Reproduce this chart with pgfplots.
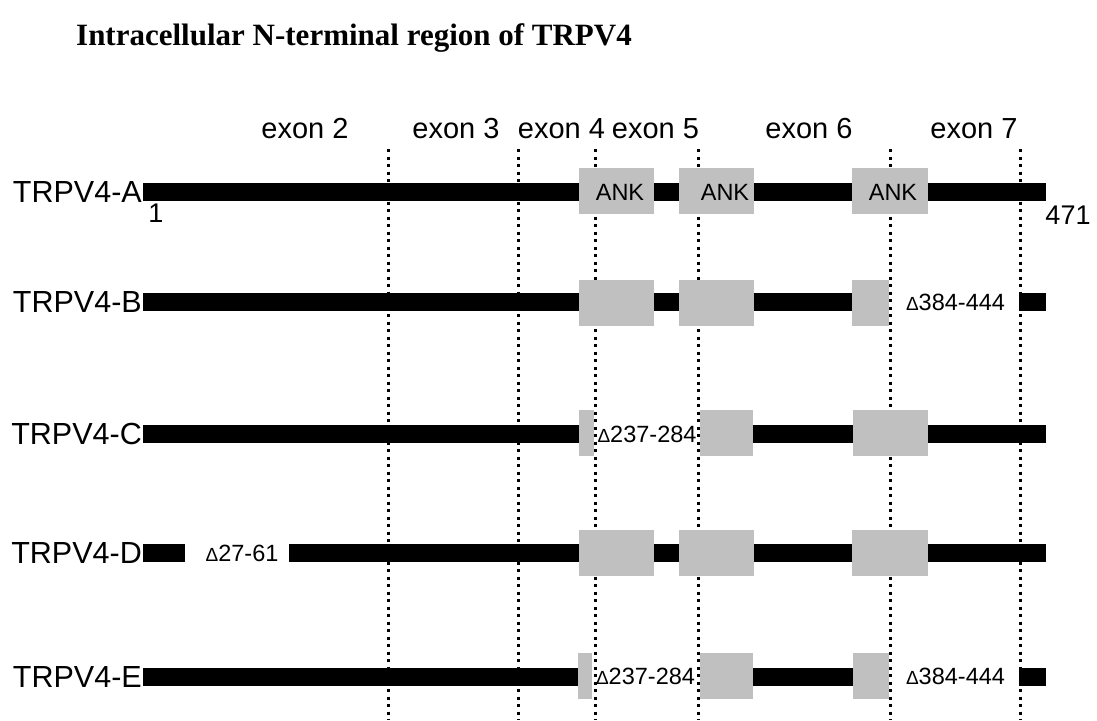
\documentclass[border=0pt]{standalone}
\usepackage{pgfplots}
\pgfplotsset{compat=1.18}
\usepackage{fontspec}
\setmainfont{Liberation Sans}
\newfontfamily\titlefont{Liberation Serif}
\definecolor{ankgray}{RGB}{192,192,192}
\newcommand{\fs}[1]{\fontsize{#1}{#1}\selectfont}
\newcommand{\dl}{{\fs{19}Δ}}
\begin{document}
\begin{tikzpicture}
\useasboundingbox (0,0) rectangle (1097pt,720pt);
\begin{axis}[at={(0,0)}, anchor=south west, scale only axis,
  width=1097pt, height=720pt, xmin=0, xmax=1097, ymin=0, ymax=720,
  y dir=reverse, hide axis, clip=false, no markers,
  dotl/.style={black, line width=3pt, dash pattern=on 3pt off 4.5pt},
  bar/.style={black, line width=18pt},
  box/.style={ankgray, line width=46pt}]
% title
\node[anchor=base west, inner sep=0, font=\titlefont\bfseries\fs{31}] at (axis cs:76,45) {Intracellular N-terminal region of TRPV4};
% exon boundaries
\addplot[dotl] coordinates {(388,149) (388,720)};
\addplot[dotl] coordinates {(518,149) (518,720)};
\addplot[dotl] coordinates {(595.5,149) (595.5,720)};
\addplot[dotl] coordinates {(698,149) (698,720)};
\addplot[dotl] coordinates {(890.5,149) (890.5,720)};
\addplot[dotl] coordinates {(1020,149) (1020,720)};
% exon labels
\foreach \x/\t in {305/exon 2, 456/exon 3, 561.5/exon 4, 655.5/exon 5, 809/exon 6, 974/exon 7}{
  \edef\tmp{\noexpand\node[anchor=base, inner sep=0, font=\noexpand\fs{29}] at (axis cs:\x,138) {\t};}\tmp
}
% ---- TRPV4-A
\addplot[bar] coordinates {(143,192) (1045.6,192)};
\addplot[box] coordinates {(579,190.5) (653.5,190.5)};
\addplot[box] coordinates {(679,190.5) (754,190.5)};
\addplot[box] coordinates {(852,190.5) (928,190.5)};
% ---- TRPV4-B
\addplot[bar] coordinates {(143,302) (852,302)};
\addplot[bar] coordinates {(1019,302) (1045.6,302)};
\addplot[box] coordinates {(579,302.5) (653.5,302.5)};
\addplot[box] coordinates {(679,302.5) (754,302.5)};
\addplot[box] coordinates {(852,302.5) (889,302.5)};
% ---- TRPV4-C
\addplot[bar] coordinates {(143,434) (579,434)};
\addplot[bar] coordinates {(752.5,434) (1045.6,434)};
\addplot[box] coordinates {(579,432.5) (594,432.5)};
\addplot[box] coordinates {(699.5,432.5) (752.5,432.5)};
\addplot[box] coordinates {(853,432.5) (928,432.5)};
% ---- TRPV4-D
\addplot[bar] coordinates {(143,553) (185,553)};
\addplot[bar] coordinates {(289,553) (1045.6,553)};
\addplot[box] coordinates {(579,553) (653.5,553)};
\addplot[box] coordinates {(679,553) (754,553)};
\addplot[box] coordinates {(852,553) (928,553)};
% ---- TRPV4-E
\addplot[bar] coordinates {(143,677) (578,677)};
\addplot[bar] coordinates {(752.5,677) (853,677)};
\addplot[bar] coordinates {(1019,677) (1045.6,677)};
\addplot[box] coordinates {(578,675.5) (592,675.5)};
\addplot[box] coordinates {(699.5,675.5) (752.5,675.5)};
\addplot[box] coordinates {(853,675.5) (889,675.5)};
% row labels
\foreach \y/\t in {192/A, 302/B, 434/C, 553/D, 677/E}{
  \edef\tmp{\noexpand\node[anchor=east, inner sep=0, font=\noexpand\fs{30.5}] at (axis cs:142,\y) {TRPV4-\t};}\tmp
}
% ANK labels
\node[inner sep=0, font=\fs{23.5}] at (axis cs:620,192) {ANK};
\node[inner sep=0, font=\fs{23.5}] at (axis cs:725,192) {ANK};
\node[inner sep=0, font=\fs{23.5}] at (axis cs:893,192) {ANK};
% residue numbers
\node[inner sep=0, font=\fs{27}] at (axis cs:156,213) {1};
\node[inner sep=0, font=\fs{27}] at (axis cs:1068,215) {471};
% deletions
\node[inner sep=0, font=\fs{23.5}] at (axis cs:955.5,302.5) {\dl384-444};
\node[inner sep=0, font=\fs{23.5}] at (axis cs:647,434) {\dl237-284};
\node[inner sep=0, font=\fs{23.5}] at (axis cs:242,553) {\dl27-61};
\node[inner sep=0, font=\fs{23.5}] at (axis cs:645.5,676) {\dl237-284};
\node[inner sep=0, font=\fs{23.5}] at (axis cs:955.5,676) {\dl384-444};
\end{axis}
\end{tikzpicture}
\end{document}
